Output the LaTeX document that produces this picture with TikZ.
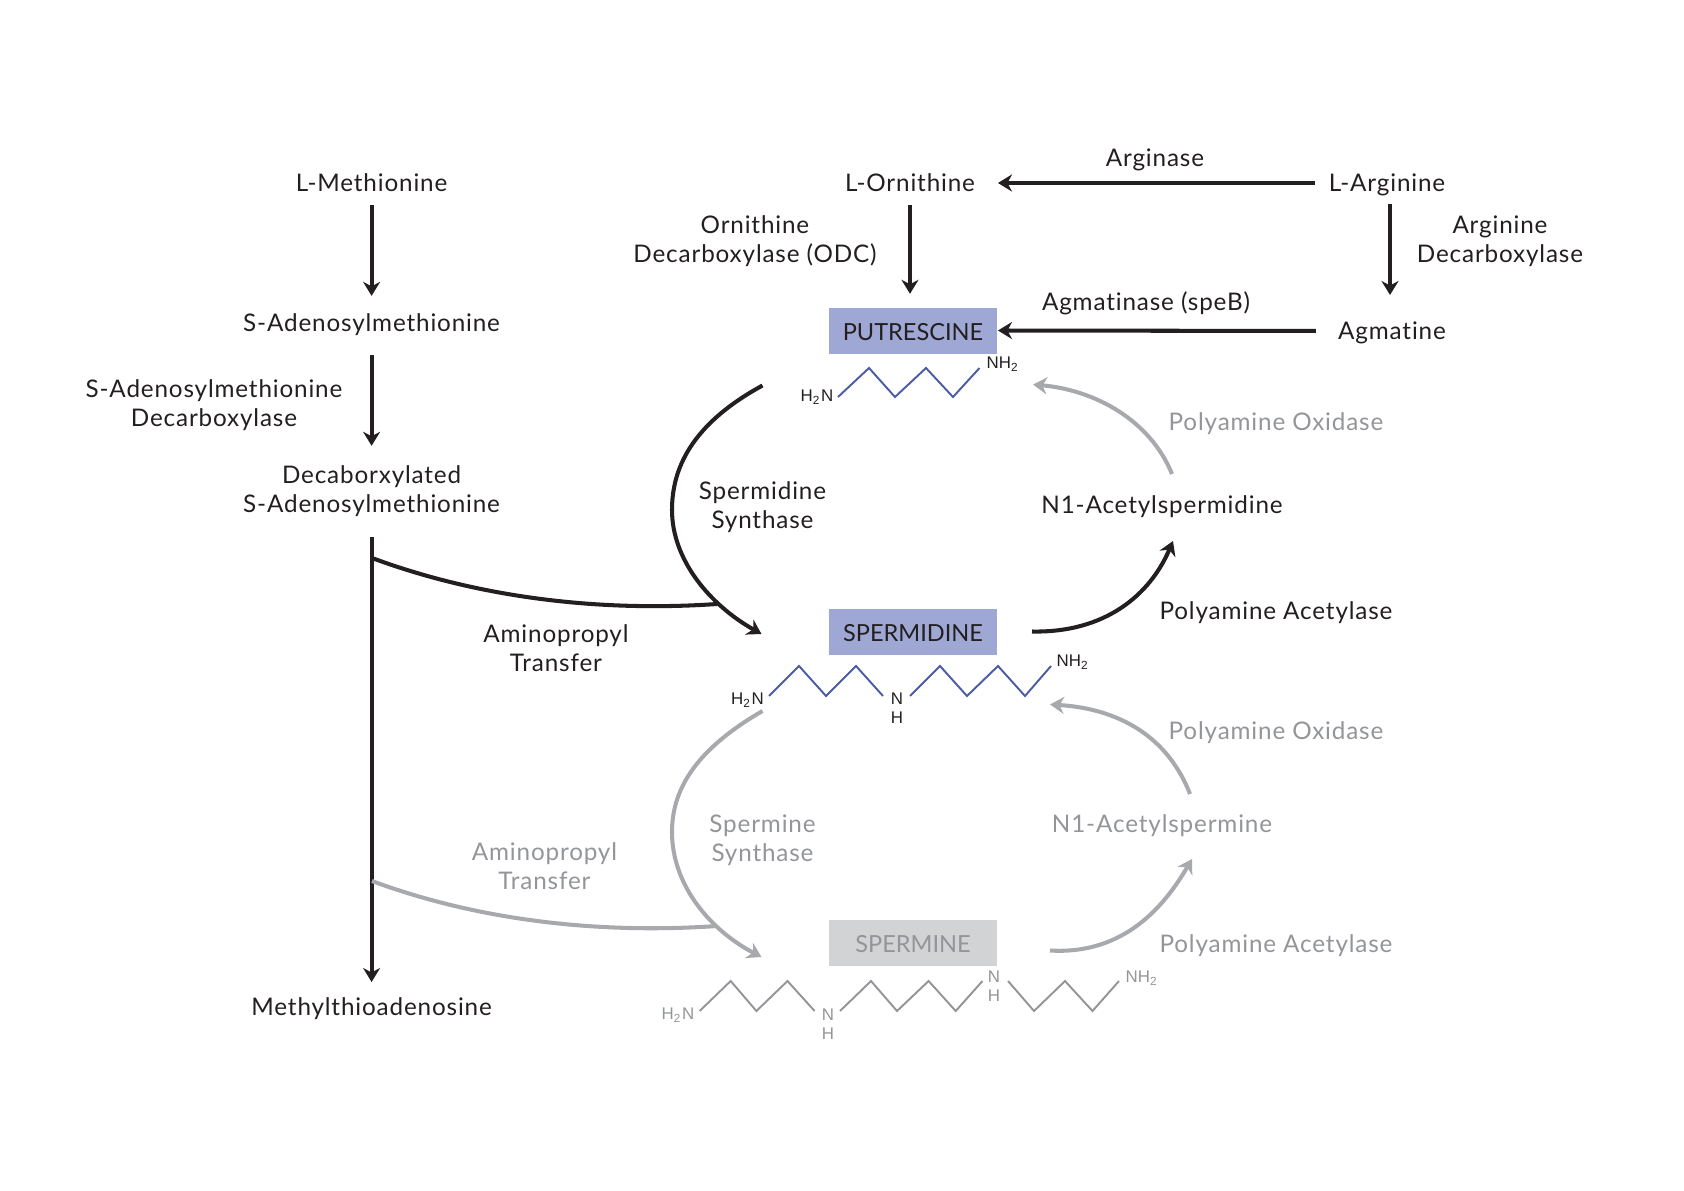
\documentclass[tikz,border=0pt]{standalone}
\usepackage{fontspec}
\setmainfont[LetterSpace=3.5, Ligatures=NoCommon]{Lato}
\newfontfamily\boxfont{Lato}
\newfontfamily\chemfont{Liberation Sans}
\usetikzlibrary{arrows.meta}
\definecolor{inkblack}{HTML}{231F20}
\definecolor{inkgrey}{HTML}{939598}
\definecolor{linegrey}{HTML}{A7A9AC}
\definecolor{boxblue}{HTML}{9FA8D4}
\definecolor{boxgrey}{HTML}{D1D3D4}
\definecolor{chainblue}{HTML}{4A5CA3}
\definecolor{chaingrey}{HTML}{939598}
\tikzset{
    label/.style={inner sep=0pt, align=center, text=inkblack, font=\fontsize{6.9}{8.25}\selectfont},
    fadelabel/.style={label, text=inkgrey},
    oneline/.style={text height=4.8pt, text depth=0pt},
    blackarrow/.style={draw=inkblack, line width=1.15pt, -{Stealth[length=1.4mm, width=1.7mm, inset=0.45mm]}},
    greyarrow/.style={draw=linegrey, line width=1.15pt, -{Stealth[length=1.4mm, width=1.7mm, inset=0.45mm]}},
    blackline/.style={draw=inkblack, line width=1.15pt},
    greyline/.style={draw=linegrey, line width=1.15pt},
    namebox/.style={minimum width=16.85mm, minimum height=4.6mm, inner sep=0pt, text height=5.5pt, text depth=0pt, font=\fontsize{6.7}{8}\boxfont},
    chem/.style={inner sep=0pt, align=center, text=inkblack, font=\fontsize{4.8}{5.4}\chemfont},
    fadechem/.style={chem, text=inkgrey},
    bluechain/.style={draw=chainblue, line width=0.55pt, line join=miter},
    greychain/.style={draw=chaingrey, line width=0.55pt, line join=miter}
}
\begin{document}
\begin{tikzpicture}[x=0.1mm, y=-0.1mm]
    \useasboundingbox (0,0) rectangle (1684,1191);

    \node[label, oneline] (lmet) at (371.6,183) {L-Methionine};
    \node[label, oneline] (sam) at (371.6,323) {S-Adenosylmethionine};
    \node[label] (samdc) at (214,405) {S-Adenosylmethionine\\Decarboxylase};
    \node[label] (dcsam) at (371.6,491) {Decaborxylated\\S-Adenosylmethionine};
    \node[label, oneline] (mta) at (371.6,1007) {Methylthioadenosine};
    \node[label, oneline] (lorn) at (910,183) {L-Ornithine};
    \node[label, oneline] (arginase) at (1155,158) {Arginase};
    \node[label, oneline] (larg) at (1387,183) {L-Arginine};
    \node[label] (odc) at (755,241) {Ornithine\\Decarboxylase (ODC)};
    \node[label] (adc) at (1500,241) {Arginine\\Decarboxylase};
    \node[label, oneline] (speb) at (1146,302) {Agmatinase (speB)};
    \node[label, oneline] (agm) at (1392,331) {Agmatine};

    \node[namebox, fill=boxblue, text=inkblack] (put) at (913,330.5) {PUTRESCINE};
    \node[namebox, fill=boxblue, text=inkblack] (spd) at (913,632) {SPERMIDINE};
    \node[namebox, fill=boxgrey, text=inkgrey] (spm) at (913,942.5) {SPERMINE};

    \node[label] (spds) at (762.5,507) {Spermidine\\Synthase};
    \node[label, oneline] (n1spd) at (1162,505) {N1-Acetylspermidine};
    \node[fadelabel, oneline] (pao1) at (1276,422) {Polyamine Oxidase};
    \node[label, oneline] (pac1) at (1276,611) {Polyamine Acetylase};
    \node[label] (apt1) at (556,648) {Aminopropyl\\Transfer};
    \node[fadelabel, oneline] (pao2) at (1276,731) {Polyamine Oxidase};
    \node[fadelabel] (spms) at (762.5,840) {Spermine\\Synthase};
    \node[fadelabel, oneline] (n1spm) at (1162,824) {N1-Acetylspermine};
    \node[fadelabel] (apt2) at (544.5,866) {Aminopropyl\\Transfer};
    \node[fadelabel, oneline] (pac2) at (1276,944) {Polyamine Acetylase};

    \node[chem] (puth) at (817,397) {H\textsubscript{2}N};
    \node[chem] (putn) at (1003,364) {NH\textsubscript{2}};
    \node[chem] (spdh) at (747.5,700) {H\textsubscript{2}N};
    \node[chem] (spdm) at (897,708) {N\\H};
    \node[chem] (spdn) at (1073,662) {NH\textsubscript{2}};
    \node[fadechem] (spmh) at (678,1015) {H\textsubscript{2}N};
    \node[fadechem] (spma) at (828,1024) {N\\H};
    \node[fadechem] (spmb) at (994,986) {N\\H};
    \node[fadechem] (spmn) at (1142,978) {NH\textsubscript{2}};

    \coordinate (puta) at (838,397);
    \coordinate (putb) at (979.5,368);
    \coordinate (spda) at (769,696);
    \coordinate (spdb) at (883,696);
    \coordinate (spdc) at (910,696);
    \coordinate (spdd) at (1051,666);
    \coordinate (spmc) at (699.6,1011);
    \coordinate (spmd) at (814.6,1011);
    \coordinate (spme) at (840,1011);
    \coordinate (spmf) at (982.5,981);
    \coordinate (spmg) at (1008,981);
    \coordinate (spmi) at (1119,981);

    \draw[bluechain] (puta) -- (869,368) -- (895,397) -- (926,368) -- (953,397) -- (putb);
    \draw[bluechain] (spda) -- (799,666) -- (826,696) -- (856,666) -- (spdb);
    \draw[bluechain] (spdc) -- (940,666) -- (967,696) -- (998,666) -- (1025,696) -- (spdd);
    \draw[greychain] (spmc) -- (730.7,981) -- (756.4,1011) -- (787.5,981) -- (spmd);
    \draw[greychain] (spme) -- (871,981) -- (897,1011) -- (928.6,981) -- (955.7,1011) -- (spmf);
    \draw[greychain] (spmg) -- (1034,1011) -- (1065,981) -- (1092.5,1011) -- (spmi);

    \coordinate (ldown) at (371.6,537);
    \coordinate (lend) at (371.6,982);
    \coordinate (argtop) at (1390,204);
    \coordinate (argend) at (1390,295);
    \coordinate (aone) at (372,558);
    \coordinate (aonee) at (717,604);
    \coordinate (atwo) at (372,881);
    \coordinate (atwoe) at (717,926);
    \coordinate (sone) at (762.5,385.5);
    \coordinate (sonee) at (761.5,634);
    \coordinate (stwo) at (762.5,711);
    \coordinate (stwoe) at (761.5,957);
    \coordinate (rone) at (1032,631.5);
    \coordinate (ronee) at (1173,541);
    \coordinate (rtwo) at (1172,474);
    \coordinate (rtwoe) at (1033,384.5);
    \coordinate (rthree) at (1190,794);
    \coordinate (rthreee) at (1050,704.5);
    \coordinate (rfour) at (1050,950.5);
    \coordinate (rfoure) at (1192,859);

    \draw[blackarrow, shorten <=1.3mm, shorten >=1.8mm] (lmet.south) -- (sam.north);
    \draw[blackarrow, shorten <=2.3mm, shorten >=1.9mm] (sam.south) -- (dcsam.north);
    \draw[blackarrow] (ldown) -- (lend);
    \draw[blackarrow, shorten <=1.3mm, shorten >=1.3mm] (lorn.south) -- (put.north -| lorn);
    \draw[blackarrow, shorten <=1.3mm] (larg.west) -- (lorn.east -| put.east);
    \draw[blackarrow] (argtop) -- (argend);
    \draw[blackarrow, shorten <=2.15mm] (agm.west) -- (put.east);

    \draw[blackline] (aone) .. controls (480,598) and (600,612) .. (aonee);
    \draw[greyline] (atwo) .. controls (480,921) and (600,934) .. (atwoe);

    \draw[blackarrow] (sone) .. controls (690,425) and (672,470) .. (672,510) .. controls (672,560) and (710,605) .. (sonee);
    \draw[greyarrow] (stwo) .. controls (695,750) and (672,790) .. (672,832) .. controls (672,885) and (710,930) .. (stwoe);

    \draw[blackarrow] (rone) .. controls (1105,633) and (1150,595) .. (ronee);
    \draw[greyarrow] (rtwo) .. controls (1150,420) and (1095,390) .. (rtwoe);
    \draw[greyarrow] (rthree) .. controls (1165,730) and (1110,708) .. (rthreee);
    \draw[greyarrow] (rfour) .. controls (1125,955) and (1165,905) .. (rfoure);
\end{tikzpicture}
\end{document}
